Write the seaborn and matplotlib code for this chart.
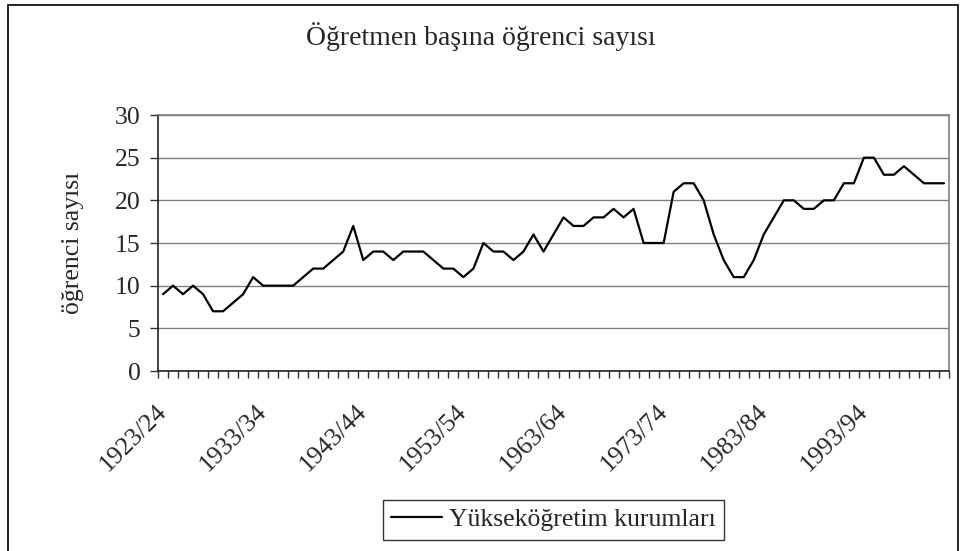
import numpy as np
import pandas as pd
import matplotlib
matplotlib.use('Agg')
import matplotlib.pyplot as plt
import seaborn as sns
from matplotlib.patches import Rectangle

# Öğretmen başına öğrenci sayısı, yükseköğretim (1923/24 - 2001/02)
years = [f"{y}/{str(y + 1)[-2:]}" for y in range(1923, 2002)]
ratio = [9, 10, 9, 10, 9, 7, 7, 8, 9, 11, 10, 10, 10, 10, 11, 12, 12, 13, 14, 17,
         13, 14, 14, 13, 14, 14, 14, 13, 12, 12, 11, 12, 15, 14, 14, 13, 14, 16, 14, 16,
         18, 17, 17, 18, 18, 19, 18, 19, 15, 15, 15, 21, 22, 22, 20, 16, 13, 11, 11, 13,
         16, 18, 20, 20, 19, 19, 20, 20, 22, 22, 25, 25, 23, 23, 24, 23, 22, 22, 22]
label_years = ["1923/24", "1933/34", "1943/44", "1953/54", "1963/64", "1973/74", "1983/84", "1993/94"]
series_name = "Yükseköğretim kurumları"

df = pd.DataFrame({'pos': np.arange(len(years)), 'yil': years, 'oran': ratio})

sns.set_style('white')
plt.rcParams['font.family'] = ['Liberation Serif', 'DejaVu Serif']
FS = 18.5

W, H = 961, 551
fig = plt.figure(figsize=(W / 100, H / 100), dpi=100)
ax = fig.add_axes([158 / W, 1 - 371 / H, (949 - 158) / W, (371 - 115) / H])

sns.lineplot(data=df, x='pos', y='oran', ax=ax, color='black', linewidth=1.6,
             label=series_name)

ax.set_xlim(-0.5, len(years) - 0.5)
ax.set_ylim(0, 30)
ax.set_yticks(range(0, 31, 5))
ax.tick_params(axis='y', labelsize=FS, length=5.5, width=1, color='#333333',
               direction='out', left=True, pad=7)
ax.yaxis.grid(True, color='#808080', linewidth=1)
ax.set_axisbelow(True)

# tick marks between categories, labels every 10 years
ax.set_xticks(np.arange(-0.5, len(years), 1))
ax.set_xticklabels([])
ax.tick_params(axis='x', which='major', length=5, width=1, color='#333333',
               direction='out', bottom=True)
lab_pos = [years.index(y) for y in label_years]
ax.set_xticks(lab_pos, minor=True)
ax.set_xticklabels(label_years, minor=True, rotation=45, ha='right', va='center',
                   rotation_mode='anchor', fontsize=FS)
ax.tick_params(axis='x', which='minor', length=0, pad=27)

for s in ['top', 'right']:
    ax.spines[s].set_color('#808080')
for s in ['left', 'bottom']:
    ax.spines[s].set_color('#222222')
for s in ax.spines.values():
    s.set_linewidth(1.2)

ax.set_xlabel('')
ax.set_ylabel('öğrenci sayısı', fontsize=FS, labelpad=22)

fig.text(481 / W, 1 - 45 / H, 'Öğretmen başına öğrenci sayısı', ha='center', va='baseline',
         fontsize=20)

leg = ax.legend(loc='upper left', bbox_to_anchor=(383 / W, 1 - 500 / H),
                bbox_transform=fig.transFigure, fontsize=FS, frameon=True,
                fancybox=False, edgecolor='black', handlelength=1.95,
                handletextpad=0.27, borderpad=0.33, borderaxespad=0)
leg.get_frame().set_linewidth(1)

# chart area border
fig.patches.append(Rectangle((8 / W, -0.05), (958 - 8) / W, 1.05 - 5 / H,
                             transform=fig.transFigure, fill=False,
                             edgecolor='black', linewidth=1.2))

fig.savefig('out.png', dpi=100)
